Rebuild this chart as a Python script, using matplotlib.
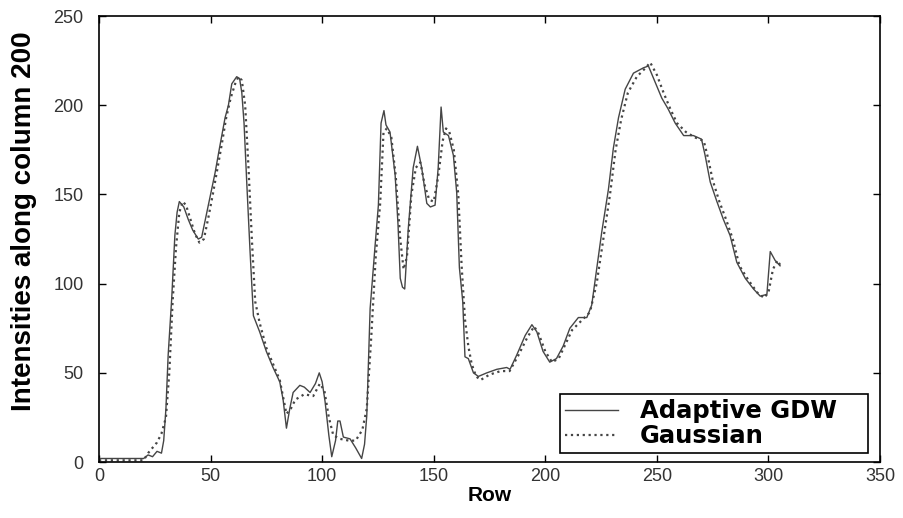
import matplotlib.pyplot as plt
import numpy as np

# intensity profile along column 200, adaptive GDW filter
row_gdw = [0, 20, 22, 24, 26, 28, 29, 30, 31, 32.6, 34, 35, 36, 38, 40, 42, 44.5, 46, 48, 50,
           52, 54, 56.5, 58, 59.5, 61.7, 63, 64, 65, 66.2, 67.7, 69.2, 72, 75, 78, 81, 82.5, 84,
           85.5, 87, 90, 92, 94.6, 97, 98.7, 100, 101.3, 103, 104.3, 106, 107, 108, 109.5, 112.5,
           115, 117.7, 119, 120, 121.5, 123.7, 125.2, 126.4, 127.7, 128.6, 130.4, 132.7, 134, 135,
           136, 137, 138.6, 140.8, 142.7, 144.6, 146.9, 148.5, 150.6, 152, 153.3, 154.3, 156.6,
           158.8, 160.3, 161.5, 163, 164, 165.5, 167.8, 170, 173.8, 178.3, 182.7, 184.2, 187.2,
           191, 194, 196.2, 199, 202, 205, 208, 211, 214.8, 218.6, 220.8, 223, 225.3, 228.3,
           230.5, 232.8, 235.8, 239.5, 244, 246.2, 249.2, 252.2, 255, 258.2, 262, 266.4, 270,
           271.6, 273.9, 276.9, 279.8, 282.8, 285.8, 289.6, 293.3, 296.3, 299.3, 300.8, 303, 305.2]
val_gdw = [2, 2, 4, 3, 6, 5, 12, 30, 60, 92, 127, 140, 146, 143, 136, 130, 125, 126, 138, 150,
           162, 176, 193, 200, 212, 216, 215, 207, 190, 157, 118, 82, 73, 62, 53, 45, 35, 19,
           30, 39, 43, 42, 39, 44, 50, 45, 34, 15, 3, 12, 23, 23, 14, 13,
           8, 2, 10, 26, 86, 121, 144, 190, 197, 189, 185, 161, 133, 103,
           98, 97, 131, 165, 177, 165, 145, 143, 144, 165, 199, 185, 183,
           172, 151, 109, 90, 59, 58, 50, 48, 50, 52, 53, 52, 60,
           71, 77, 73, 62, 56, 58, 65, 75, 81, 81, 88, 108, 129, 153,
           176, 193, 209, 218, 221, 222, 213, 204, 198, 190, 183, 183, 181,
           172, 157, 146, 136, 127, 112, 103, 97, 93, 94, 118, 113, 110]

# same profile, Gaussian filter
row_gauss = [0, 20, 22, 24, 26, 28, 30, 31.5, 33, 34.5, 36, 37.5, 39, 41, 43, 45, 47, 49, 51, 53,
             55, 57, 59, 61, 62.5, 64, 65.5, 67, 68.5, 70, 72, 75, 78, 81, 84, 86, 88, 92, 96, 99,
             101, 103, 105, 108, 112, 115, 118, 120, 122, 124, 126, 127.5, 129, 131, 133, 135,
             136.5, 138, 140, 142, 144, 146, 148, 150, 152, 154, 155.5, 157, 159, 161, 162.5, 164,
             165.5, 167, 169, 171, 175, 180, 184, 188, 192, 195, 197, 200, 203, 206, 209, 212,
             216, 220, 223, 226, 229, 231.5, 234, 237, 241, 245, 247, 250, 253, 256, 259, 263,
             267, 271, 273, 275, 278, 281, 284, 287, 291, 295, 298, 300, 302, 304, 305.5]
val_gauss = [1, 1, 5, 8, 11, 16, 25, 50, 90, 120, 140, 146, 144, 136, 128, 123, 125, 137, 150, 164,
             178, 193, 204, 212, 216, 214, 200, 165, 125, 90, 78, 64, 55, 46, 27, 30, 35, 38, 37, 44,
             40, 25, 15, 13, 12, 12, 18, 30, 70, 115, 145, 185, 187, 182, 160, 125,
             108, 115, 150, 165, 168, 155, 147, 146, 160, 180, 187, 185, 175, 150, 110, 80,
             65, 55, 48, 46, 49, 51, 51, 60, 70, 76, 72, 62, 56, 58, 66, 74,
             79, 84, 100, 125, 150, 175, 192, 207, 216, 221, 224, 217, 207, 198, 190, 185,
             182, 180, 170, 158, 146, 136, 125, 110, 102, 95, 92, 95, 108, 113, 110]

sans = ['Liberation Sans', 'DejaVu Sans']

fig = plt.figure(figsize=(9.04, 5.18), dpi=100)
ax = fig.add_axes([0.1095, 0.108, 0.864, 0.861])

ax.plot(row_gdw, val_gdw, '-', color='#454545', linewidth=1.0, label='Adaptive GDW')
ax.plot(row_gauss, val_gauss, ':', color='#454545', linewidth=1.6, label='Gaussian')

ax.set_xlim(0, 350)
ax.set_ylim(0, 250)
ax.set_xticks(np.arange(0, 351, 50))
ax.set_yticks(np.arange(0, 251, 50))
ax.tick_params(direction='in', top=True, right=True, length=5, width=1,
               labelsize=13, labelcolor='#333333')
ax.tick_params(axis='y', pad=11)
ax.tick_params(axis='x', pad=4)
for lab in ax.get_xticklabels() + ax.get_yticklabels():
    lab.set_family(sans)
for sp in ax.spines.values():
    sp.set_linewidth(1.2)

ax.set_xlabel('Row', fontsize=15, fontweight='bold', family=sans, labelpad=1)
ax.set_ylabel('Intensities along column 200', fontsize=20, fontweight='bold', family=sans)
ax.yaxis.set_label_coords(-0.08, 0.54)

# legend box stretched to a fixed width in the lower right corner
leg = ax.legend(loc='lower left', bbox_to_anchor=(0.590, 0.02, 0.394, 0.12), mode='expand',
                borderaxespad=0, fancybox=False, edgecolor='black', framealpha=1,
                handlelength=2.2, handletextpad=0.9, borderpad=0.2, labelspacing=0.05,
                prop={'family': ['DejaVu Sans'], 'weight': 'bold', 'size': 17.5})
leg.get_frame().set_linewidth(1.2)

plt.savefig('out.png', dpi=100)
plt.close(fig)
